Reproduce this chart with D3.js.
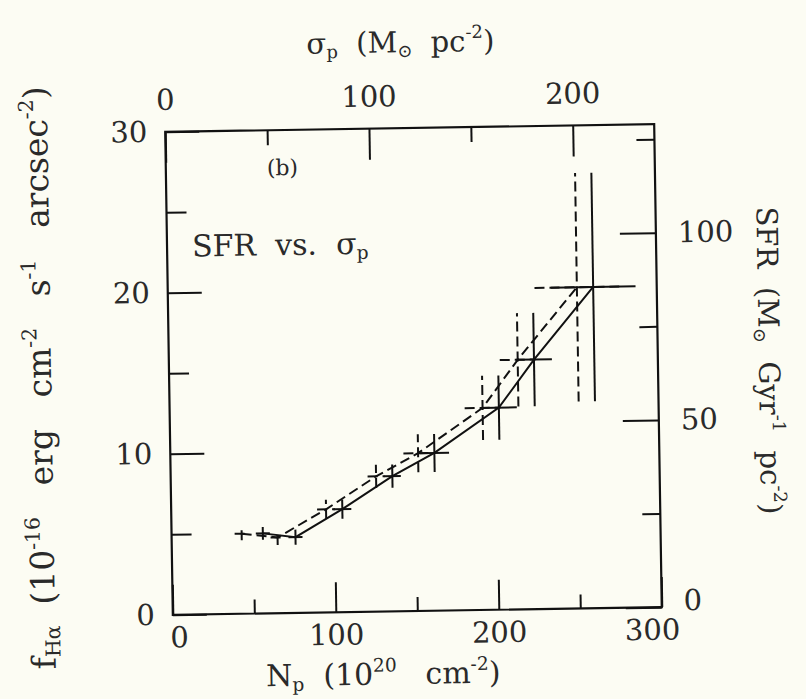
<!DOCTYPE html>
<html>
<head>
<meta charset="utf-8">
<script src="https://cdn.jsdelivr.net/npm/d3@7"></script>
<style>
  html, body { margin: 0; padding: 0; background: #fcfcf3; }
  svg { display: block; }
  .axis text { font-family: "DejaVu Serif", serif; font-size: 29px; fill: #2a2a2a; }
  .axis line { stroke: #111; stroke-width: 2px; }
  .axis path { display: none; }
  .lbl { font-family: "DejaVu Serif", serif; fill: #2a2a2a; }
</style>
</head>
<body>
<div id="plot"></div>
<script>
//-----------------------------DATA-----------------------------//
// N_p (10^20 cm^-2) of the two series, same f_Ha values
const npSolid = [56, 76, 105, 136, 162, 202, 224, 261];
const npDashed = [43, 65, 95, 126, 152, 192, 214, 251];
const fHa = [4.97, 4.7, 6.4, 8.4, 9.8, 12.55, 15.5, 19.95];
const fErr = [0.4, 0.47, 0.6, 0.72, 1.18, 2.0, 2.9, 7.1];
const npErr = [4.3, 4.3, 5.5, 5.2, 9, 11, 11, 26];

const npTicks = [0, 100, 200, 300];
const npMinor = [50, 150, 250];
const fTicks = [0, 10, 20, 30];
const fMinor = [5, 15, 25];
const sigmaTicks = [0, 100, 200];
const sigmaMinor = [50, 150];
const sfrTicks = [0, 50, 100];
const sfrMinor = [25, 75, 125];

//------------------------1. PREPARATION------------------------//
const width = 806;
const height = 699;
const frameL = 169, frameR = 658, frameT = 128, frameB = 611;

const svg = d3.select("#plot").append("svg")
  .attr("width", width)
  .attr("height", height);

// the scanned page is slightly tilted
const g = svg.append("g")
  .attr("transform", "rotate(-0.9, 413.5, 369.5)");

//----------------------------SCALES----------------------------//
const xScale = d3.scaleLinear().domain([0, 300]).range([frameL, frameR]);
const yScale = d3.scaleLinear().domain([0, 30]).range([frameB, frameT]);
const sigmaScale = d3.scaleLinear().domain([0, 240]).range([frameL, frameR]);
const sfrScale = d3.scaleLinear().domain([0, 129]).range([frameB, frameT]);

//-----------------------------AXES-----------------------------//
function addAxis(axis, tr) {
  return g.append("g")
    .attr("class", "axis")
    .attr("transform", tr)
    .call(axis);
}

const bottomAxis = addAxis(d3.axisBottom(xScale).tickValues(npTicks).tickSize(-30).tickPadding(12)
  .tickFormat(d3.format("d")), "translate(0," + frameB + ")");
// end labels sit a bit inside the corners
bottomAxis.selectAll("text")
  .attr("dx", d => d === 0 ? 6 : (d === 300 ? -10 : 0));
addAxis(d3.axisBottom(xScale).tickValues(npMinor).tickSize(-14).tickFormat(""),
  "translate(0," + frameB + ")");

addAxis(d3.axisTop(sigmaScale).tickValues(sigmaTicks).tickSize(-31).tickPadding(22)
  .tickFormat(d3.format("d")), "translate(0," + frameT + ")");
addAxis(d3.axisTop(sigmaScale).tickValues(sigmaMinor).tickSize(-15).tickFormat(""),
  "translate(0," + frameT + ")");

addAxis(d3.axisLeft(yScale).tickValues(fTicks).tickSize(-34).tickPadding(18)
  .tickFormat(d3.format("d")), "translate(" + frameL + ",0)");
addAxis(d3.axisLeft(yScale).tickValues(fMinor).tickSize(-20).tickFormat(""),
  "translate(" + frameL + ",0)");

const rightAxis = addAxis(d3.axisRight(sfrScale).tickValues(sfrTicks).tickSize(-36).tickPadding(22)
  .tickFormat(d3.format("d")), "translate(" + frameR + ",0)");
rightAxis.selectAll("text")
  .attr("dy", d => d === 0 ? "0.1em" : "0.32em");
addAxis(d3.axisRight(sfrScale).tickValues(sfrMinor).tickSize(-18).tickFormat(""),
  "translate(" + frameR + ",0)");

// frame
g.append("rect")
  .attr("x", frameL).attr("y", frameT)
  .attr("width", frameR - frameL).attr("height", frameB - frameT)
  .attr("fill", "none")
  .attr("stroke", "#111")
  .attr("stroke-width", 2.2);

//----------------------------LABELS----------------------------//
// parts: [text, kind] with kind "" | "sub" | "sup"
function richText(sel, parts, size) {
  const t = sel.append("text")
    .attr("class", "lbl")
    .attr("font-size", size)
    .attr("xml:space", "preserve");
  parts.forEach(p => {
    const ts = t.append("tspan").text(p[0]);
    if (p[1] === "sub") {
      ts.attr("font-size", size * 0.62).attr("baseline-shift", "-25%");
    } else if (p[1] === "sup") {
      ts.attr("font-size", size * 0.62).attr("baseline-shift", "70%");
    }
  });
  return t;
}

richText(g.append("g").attr("transform", "translate(" + ((frameL + frameR) / 2 - 8) + ",52)"),
  [["σ", ""], ["p", "sub"], ["  (M", ""], ["⊙", "sub"], ["  pc", ""], ["-2", "sup"], [")", ""]], 29)
  .attr("text-anchor", "middle");

richText(g.append("g").attr("transform", "translate(" + ((frameL + frameR) / 2 - 35) + ",684)"),
  [["N", ""], ["p", "sub"], ["  (10", ""], ["20", "sup"], ["   cm", ""], ["-2", "sup"], [")", ""]], 30)
  .attr("text-anchor", "middle");

richText(g.append("g").attr("transform", "translate(51,372) rotate(-90)"),
  [["f", ""], ["Hα", "sub"], ["  (10", ""], ["-16", "sup"], ["   erg   cm", ""], ["-2", "sup"],
   ["   s", ""], ["-1", "sup"], ["   arcsec", ""], ["-2", "sup"], [")", ""]], 33)
  .attr("text-anchor", "middle");

richText(g.append("g").attr("transform", "translate(759,366) rotate(90)"),
  [["SFR  (M", ""], ["⊙", "sub"], ["  Gyr", ""], ["-1", "sup"], ["  pc", ""], ["-2", "sup"], [")", ""]], 29)
  .attr("text-anchor", "middle");

richText(g.append("g").attr("transform", "translate(194,253)"),
  [["SFR  vs.  σ", ""], ["p", "sub"]], 30);

richText(g.append("g").attr("transform", "translate(270,173)"),
  [["(b)", ""]], 22);

//----------------------------LINES-----------------------------//
const series = [
  { name: "solid", np: npSolid, dash: null },
  { name: "dashed", np: npDashed, dash: "10,5" }
];

const line = d3.line()
  .x(d => xScale(d.np))
  .y(d => yScale(d.f));

series.forEach(s => {
  const pts = s.np.map((v, i) => ({ np: v, f: fHa[i], ef: fErr[i], en: npErr[i] }));
  const sg = g.append("g")
    .attr("fill", "none")
    .attr("stroke", "#111")
    .attr("stroke-width", 2)
    .attr("stroke-dasharray", s.dash);

  sg.append("path").attr("d", line(pts));

  // error bars (crosses)
  sg.selectAll("line.h").data(pts).enter().append("line")
    .attr("class", "h")
    .attr("x1", d => xScale(d.np - d.en)).attr("x2", d => xScale(d.np + d.en))
    .attr("y1", d => yScale(d.f)).attr("y2", d => yScale(d.f));
  sg.selectAll("line.v").data(pts).enter().append("line")
    .attr("class", "v")
    .attr("x1", d => xScale(d.np)).attr("x2", d => xScale(d.np))
    .attr("y1", d => yScale(d.f - d.ef)).attr("y2", d => yScale(d.f + d.ef));
});
</script>
</body>
</html>
